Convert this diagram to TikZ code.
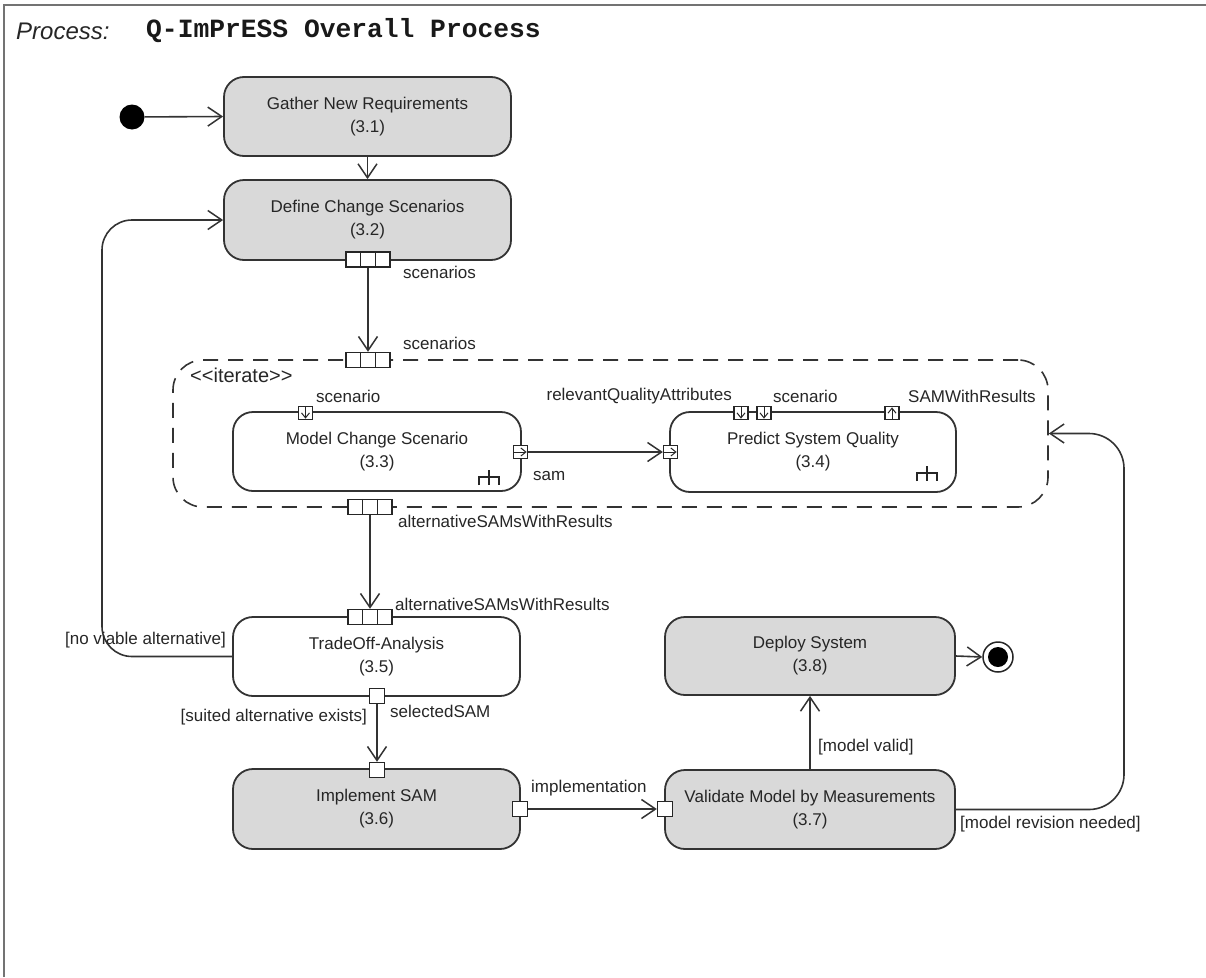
\documentclass[tikz,border=0pt]{standalone}
\usepackage{fontspec}
\setmainfont{Liberation Sans}
\newfontfamily\monof{Liberation Mono}
\usetikzlibrary{arrows.meta}
\tikzset{
  act/.style={draw=black!80, line width=1.8pt, rounded corners=20pt, align=center,
    font=\fontsize{17}{23}\selectfont, inner sep=0pt, text=black!85},
  grayact/.style={act, fill=black!15},
  whiteact/.style={act, fill=white},
  conn/.style={draw=black!80, line width=1.6pt, -{Straight Barb[length=14pt,width=19pt,line width=1.5pt]}},
  lbl/.style={font=\fontsize{17}{20}\selectfont, inner sep=0pt, text=black!85},
  pinthree/.style={draw=black!85, fill=white, line width=1.4pt, minimum width=44pt, minimum height=15pt, inner sep=0pt},
  pinsq/.style={draw=black!85, fill=white, line width=1.4pt, minimum width=15pt, minimum height=15pt, inner sep=0pt},
  pinsm/.style={draw=black!85, fill=white, line width=1.3pt, minimum width=14pt, minimum height=13pt, inner sep=0pt},
  pinarr/.style={draw=black!85, line width=1pt, -{Straight Barb[length=5pt,width=8pt]}},
  rake/.style={draw=black!85, line width=1.3pt},
}
\newcommand\threedivs[1]{\draw[black!85, line width=1.4pt] ([xshift=-7.33pt]#1.north) -- ([xshift=-7.33pt]#1.south) ([xshift=7.33pt]#1.north) -- ([xshift=7.33pt]#1.south);}
\newcommand\rakeat[2]{\draw[rake] (#1,#2-8) -- (#1,#2+7) (#1-10,#2+7) -- (#1-10,#2-1) -- (#1+10,#2-1) -- (#1+10,#2+7);}
\begin{document}
\begin{tikzpicture}[x=1pt,y=-1pt]
\useasboundingbox (0,0) rectangle (1206,977);
% frame
\draw[black!55, line width=2.5pt] (4,977) -- (4,5) -- (1206,5);
% title
\node[anchor=west, inner sep=0pt, font=\fontsize{24}{26}\selectfont\itshape, text=black!85] (ttl) at (16,31) {Process:};
\node[anchor=west, inner sep=0pt, font=\fontsize{26.3}{28}\selectfont\monof\bfseries, text=black!90] (ttl2) at (146,31) {Q-ImPrESS Overall Process};

% iterate region
\node[draw=black!80, line width=1.6pt, dash pattern=on 15pt off 10pt, rounded corners=30pt,
  minimum width=875pt, minimum height=147pt] (it) at (610.5,433.5) {};
\node[lbl, anchor=west, font=\fontsize{20}{22}\selectfont] (itl) at (190,375) {<\kern0pt<iterate>\kern0pt>};

% activities
\node[grayact, minimum width=287pt, minimum height=79pt] (g) at (367.5,116.5) {Gather New Requirements\\(3.1)};
\node[grayact, minimum width=287pt, minimum height=80pt] (d) at (367.5,220) {Define Change Scenarios\\(3.2)};
\node[whiteact, minimum width=288pt, minimum height=79pt] (m) at (377,451.5) {Model Change Scenario\\(3.3)};
\node[whiteact, minimum width=286pt, minimum height=80pt] (p) at (813,452) {Predict System Quality\\(3.4)};
\node[whiteact, minimum width=287pt, minimum height=79pt] (t) at (376.5,656.5) {TradeOff-Analysis\\(3.5)};
\node[grayact, minimum width=287pt, minimum height=80pt] (im) at (376.5,809) {Implement SAM\\(3.6)};
\node[grayact, minimum width=290pt, minimum height=79pt] (v) at (810,809.5) {Validate Model by Measurements\\(3.7)};
\node[grayact, minimum width=290pt, minimum height=78pt] (dep) at (810,656) {Deploy System\\(3.8)};

% initial / final
\node[circle, fill=black, minimum size=25pt, inner sep=0pt] (init) at (132,117) {};
\node[circle, draw=black!85, line width=1.5pt, fill=white, minimum size=30pt, inner sep=0pt] (fin) at (998,657) {};
\node[circle, fill=black, minimum size=20pt, inner sep=0pt] (fini) at (998,657) {};

% pins
\node[pinthree] (dp) at (368,259.5) {}; \threedivs{dp}
\node[pinthree] (ip) at (368,360) {}; \threedivs{ip}
\node[pinthree] (ibp) at (370,507) {}; \threedivs{ibp}
\node[pinthree] (tp) at (370,617) {}; \threedivs{tp}
\node[pinsq] (tb) at (377,696) {};
\node[pinsq] (imt) at (377,770) {};
\node[pinsq] (imr) at (520,809) {};
\node[pinsq] (vl) at (665,809) {};

\node[pinsm] (ms) at (305.5,413) {};
\draw[pinarr] ([yshift=-1.5pt]ms.north) -- ([yshift=1.5pt]ms.south);
\node[pinsm] (mr) at (520.5,452) {};
\draw[pinarr] ([xshift=1.5pt]mr.west) -- ([xshift=-1.5pt]mr.east);
\node[pinsm] (pl) at (670.5,452) {};
\draw[pinarr] ([xshift=1.5pt]pl.west) -- ([xshift=-1.5pt]pl.east);
\node[pinsm] (pq) at (741,413) {};
\draw[pinarr] ([yshift=-1.5pt]pq.north) -- ([yshift=1.5pt]pq.south);
\node[pinsm] (ps) at (764,413) {};
\draw[pinarr] ([yshift=-1.5pt]ps.north) -- ([yshift=1.5pt]ps.south);
\node[pinsm] (pr) at (892,413) {};
\draw[pinarr] ([yshift=1.5pt]pr.south) -- ([yshift=-1.5pt]pr.north);

% rakes
\rakeat{489}{478}
\rakeat{927}{474}

% connectors
\draw[conn] (init) -- (g.west);
\draw[conn] (g.south) -- (d.north);
\draw[conn] (dp.south) -- (ip.north);
\draw[conn] (mr.east) -- (pl.west);
\draw[conn] (ibp.south) -- (tp.north);
\draw[conn] (tb.south) -- (imt.north);
\draw[conn] (imr.east) -- (vl.west);
\draw[conn] (v.north) -- (dep.south);
\draw[conn] (dep.east) -- (fin.west);
\coordinate (lc) at (102,400);
\draw[conn, rounded corners=30pt] (t.west) -| (lc) |- (d.west);
\coordinate (rc) at (1124,600);
\draw[conn, rounded corners=35pt] (v.east) -| (rc) |- (it.east);

% labels
\node[lbl, anchor=west] (l1) at (403,272) {scenarios};
\node[lbl, anchor=west] (l2) at (403,343) {scenarios};
\node[lbl, anchor=west] (l3) at (316,396) {scenario};
\node[lbl, anchor=west] (l4) at (533,476) {sam};
\node[lbl, anchor=east] (l5) at (732,396) {relevantQualityAttributes};
\node[lbl, anchor=west] (l6) at (773,396) {scenario};
\node[lbl, anchor=west] (l7) at (908,396) {SAMWithResults};
\node[lbl, anchor=west] (l8) at (398,521) {alternativeSAMsWithResults};
\node[lbl, anchor=west] (l9) at (395,604) {alternativeSAMsWithResults};
\node[lbl, anchor=east] (l10) at (226,640) {[no viable alternative]};
\node[lbl, anchor=west] (l11) at (390,711) {selectedSAM};
\node[lbl, anchor=east] (l12) at (367,717) {[suited alternative exists]};
\node[lbl, anchor=west] (l13) at (531,788) {implementation};
\node[lbl, anchor=west] (l14) at (818,747) {[model valid]};
\node[lbl, anchor=west] (l15) at (960,824) {[model revision needed]};
\end{tikzpicture}
\end{document}
